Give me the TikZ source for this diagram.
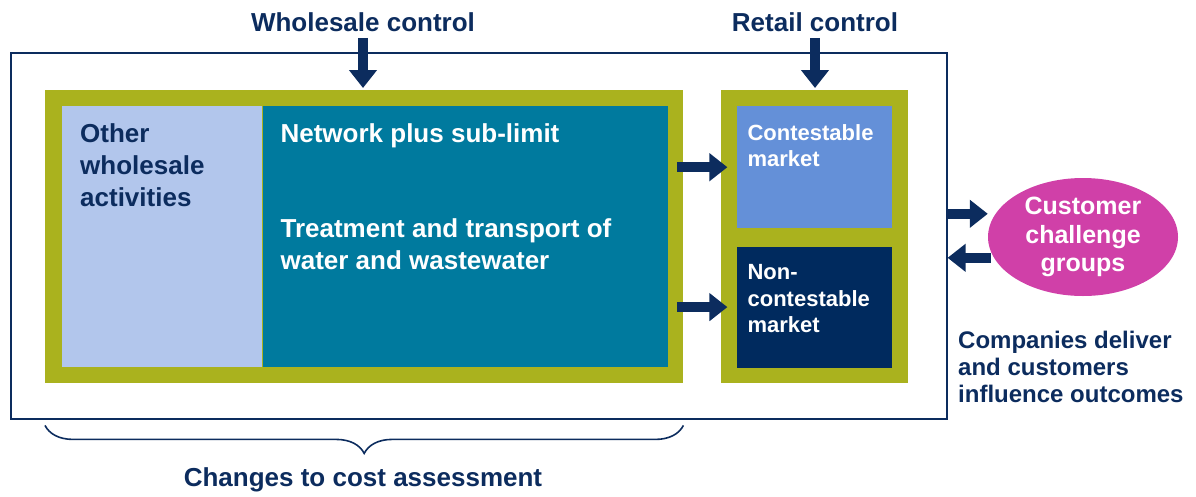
\documentclass[tikz,border=0pt]{standalone}
\usepackage{fontspec}
\setmainfont{Liberation Sans}
\usetikzlibrary{positioning, arrows.meta, shapes.geometric, decorations.pathreplacing}
\definecolor{navy}{RGB}{12,44,94}
\definecolor{wsolive}{RGB}{170,178,30}
\definecolor{wslight}{RGB}{178,198,236}
\definecolor{wsteal}{RGB}{0,122,158}
\definecolor{rtblue}{RGB}{100,144,216}
\definecolor{rtnavy}{RGB}{0,42,94}
\definecolor{ccgpink}{RGB}{208,64,168}
\begin{document}
\begin{tikzpicture}[x=1pt, y=-1pt,
     node distance = 0pt and 37pt,
        ttl/.style = {inner sep=0pt, text=navy, font=\bfseries\fontsize{26}{31}\selectfont},
       fbox/.style = {rectangle, inner sep=0pt, minimum width=638, minimum height=293, fill=wsolive},
       cbox/.style = {rectangle, inner sep=0pt},
       btxt/.style = {inner sep=0pt, align=left, font=\bfseries\fontsize{26}{32}\selectfont},
       stxt/.style = {inner sep=0pt, align=left, text=white, font=\bfseries\fontsize{22}{26.5}\selectfont},
        fat/.style = {draw=navy, line width=10pt, -{Triangle[length=18pt,width=27pt]}}
                        ]
\useasboundingbox (0,0) rectangle (1196,496);
\node (frame) [rectangle, draw=navy, line width=1.6pt, fill=white, minimum width=936, minimum height=366, anchor=north west] at (10,52) {};
\node (wsframe) [fbox, anchor=north west] at (45,90) {};
\node (retail) [fbox, minimum width=187, right=37pt of wsframe] {};
\node (other) [cbox, fill=wslight, minimum width=200, minimum height=261, below right=16pt and 17pt of wsframe.north west] {};
\node (teal) [cbox, fill=wsteal, minimum width=405, minimum height=261, right=0pt of other] {};
\node (contest) [cbox, fill=rtblue, minimum width=155, minimum height=122, below=16pt of retail.north] {};
\node (noncont) [cbox, fill=rtnavy, minimum width=155, minimum height=121, below=18pt of contest] {};
\node (othertxt) [btxt, text=navy, below right=17pt and 18pt of other.north west] {Other\\wholesale\\activities};
\node (nettxt) [btxt, text=white, below right=17pt and 18pt of teal.north west] {Network plus sub-limit};
\node (treattxt) [btxt, text=white, below right=112pt and 18pt of teal.north west] {Treatment and transport of\\water and wastewater};
\node (contxt) [stxt, below right=18pt and 11pt of contest.north west] {Contestable\\market};
\node (noncontxt) [stxt, below right=18pt and 11pt of noncont.north west] {Non-\\contestable\\market};
\node (wsctl) [ttl] at (363,22) {Wholesale control};
\node (rtctl) [ttl] at (815,22) {Retail control};
\node (cust) [ellipse, fill=ccgpink, minimum width=190, minimum height=118, inner sep=0pt, align=center, text=white, font=\bfseries\fontsize{25}{28.5}\selectfont] at (1083,237) {Customer\\challenge\\groups};
\node (outcomes) [inner sep=0pt, align=left, anchor=north west, text=navy, font=\bfseries\fontsize{24}{27}\selectfont] at (958,331) {Companies deliver\\and customers\\influence outcomes};
\node (costs) [ttl] at (363,480) {Changes to cost assessment};
\draw[fat, shorten <=6pt, shorten >=2pt] (wsctl.south) to (wsctl.south |- wsframe.north);
\draw[fat, shorten <=6pt, shorten >=2pt] (rtctl.south) to (rtctl.south |- retail.north);
\draw[fat, shorten <=9pt, shorten >=9pt] (teal.east |- contest) to (contest.west);
\draw[fat, shorten <=9pt, shorten >=9pt] (teal.east |- noncont) to (noncont.west);
\draw[fat] ([yshift=22pt]frame.east) to ([yshift=22pt]frame.east -| cust.west);
\draw[fat, shorten <=-3pt] ([yshift=-22pt]frame.east -| cust.west) to ([yshift=-22pt]frame.east);
\draw[navy, line width=1.6pt, decorate, decoration={brace, mirror, amplitude=28pt, raise=42pt}] (wsframe.south west) to (wsframe.south east);
\end{tikzpicture}
\end{document}
